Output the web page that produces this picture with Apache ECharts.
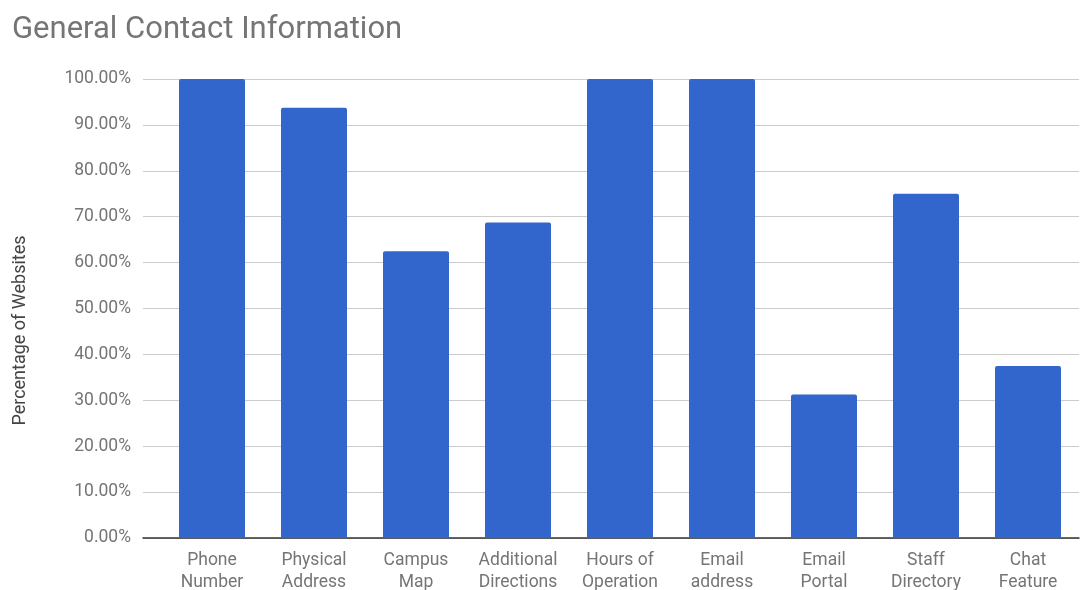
<!DOCTYPE html>
<html>
<head>
<meta charset="utf-8">
<script src="https://cdn.jsdelivr.net/npm/echarts@6/dist/echarts.min.js"></script>
<style>
html,body{margin:0;padding:0;background:#fff;}
#chart{width:1081px;height:590px;}
</style>
</head>
<body>
<div id="chart"></div>
<script>
const categories = ["Phone\nNumber", "Physical\nAddress", "Campus\nMap", "Additional\nDirections", "Hours of\nOperation", "Email\naddress", "Email\nPortal", "Staff\nDirectory", "Chat\nFeature"];
const percentages = [100, 93.75, 62.5, 68.75, 100, 100, 31.25, 75, 37.5];
const yTicks = [0, 10, 20, 30, 40, 50, 60, 70, 80, 90, 100];

const chart = echarts.init(document.getElementById('chart'));
const txt = '#757575';
chart.setOption({
  animation: false,
  textStyle: { fontFamily: 'Roboto' },
  title: {
    text: 'General Contact Information',
    left: 7, top: 10,
    textStyle: { fontFamily: 'Roboto', fontSize: 31, fontWeight: 'normal', color: txt }
  },
  grid: [
    { left: 143, right: 2, top: 79, bottom: 52, containLabel: false, outerBoundsMode: 'none' },
    { left: 161, right: 2, top: 79, bottom: 52, containLabel: false, outerBoundsMode: 'none' }
  ],
  xAxis: [
    { gridIndex: 0, type: 'value', min: 0, max: 1,
      axisLine: { show: true, lineStyle: { color: '#333', width: 1.5 } },
      axisTick: { show: false }, axisLabel: { show: false }, splitLine: { show: false } },
    { gridIndex: 1, type: 'category', data: categories,
      axisLine: { show: false }, axisTick: { show: false },
      axisLabel: { color: txt, fontSize: 17.5, lineHeight: 22, margin: 12, interval: 0 } }
  ],
  yAxis: [
    { gridIndex: 0, type: 'value', min: yTicks[0], max: yTicks[yTicks.length - 1], interval: 10,
      name: 'Percentage of Websites', nameLocation: 'middle', nameGap: 114, nameRotate: 90,
      nameTextStyle: { color: '#444', fontSize: 18, padding: [0, 44, 0, 0] },
      axisLine: { show: false }, axisTick: { show: false },
      axisLabel: { color: txt, fontSize: 17.5, margin: 12, formatter: v => v.toFixed(2) + '%' },
      splitLine: { lineStyle: { color: '#cccccc', width: 1 } } },
    { gridIndex: 1, type: 'value', min: 0, max: 100, show: false, splitLine: { show: false } }
  ],
  series: [{
    type: 'bar', xAxisIndex: 1, yAxisIndex: 1,
    data: percentages, barWidth: 66,
    itemStyle: { color: '#3366cc', borderRadius: [2, 2, 0, 0] }
  }]
});
</script>
</body>
</html>
